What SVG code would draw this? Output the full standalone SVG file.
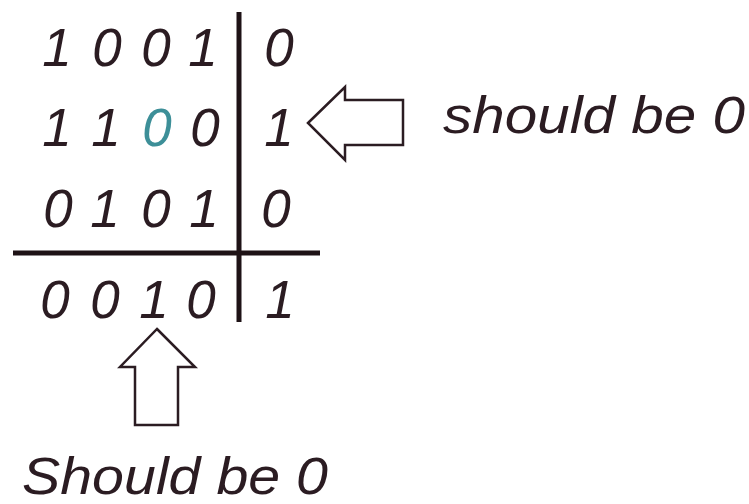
<svg xmlns="http://www.w3.org/2000/svg" width="749" height="504" viewBox="0 0 749 504">
<style>
.d{font-family:"Liberation Sans",Arial,sans-serif;font-style:italic;font-size:53px;fill:#2b1c22;text-anchor:middle}
.t{fill:#3d8f98}
.lbl{font-family:"Liberation Sans",Arial,sans-serif;font-style:italic;font-size:52px;fill:#2b1c22}
.ln{stroke:#1e1216;stroke-width:5;fill:none}
.ar{fill:#fff;stroke:#2b1c22;stroke-width:2.5;stroke-linejoin:miter}
</style>
<rect width="749" height="504" fill="#fff"/>
<g id="grid">
<line class="ln" x1="239" y1="12" x2="239" y2="322"/>
<line class="ln" x1="13" y1="253" x2="320" y2="253"/>
</g>
<g id="row1">
<text class="d" x="57" y="66">1</text><text class="d" x="107" y="66">0</text><text class="d" x="156" y="66">0</text><text class="d" x="203" y="66">1</text><text class="d" x="279" y="66">0</text>
</g>
<g id="row2">
<text class="d" x="57" y="146">1</text><text class="d" x="106" y="146">1</text><text class="d t" x="157" y="146">0</text><text class="d" x="205" y="146">0</text><text class="d" x="279" y="146">1</text>
</g>
<g id="row3">
<text class="d" x="58" y="227">0</text><text class="d" x="105" y="227">1</text><text class="d" x="156" y="227">0</text><text class="d" x="204" y="227">1</text><text class="d" x="276" y="227">0</text>
</g>
<g id="row4">
<text class="d" x="55" y="318">0</text><text class="d" x="105" y="318">0</text><text class="d" x="154" y="318">1</text><text class="d" x="201" y="318">0</text><text class="d" x="280" y="318">1</text>
</g>
<g id="connectors">
<polygon class="ar" points="308,123 345,87 345,100 403,100 403,145 345,145 345,160"/>
<polygon class="ar" points="157,329 195,367 178,367 178,425 135,425 135,367 120,367"/>
</g>
<g id="label-right">
<text class="lbl" x="443" y="133" textLength="302" lengthAdjust="spacingAndGlyphs">should be 0</text>
</g>
<g id="label-bottom">
<text class="lbl" x="22" y="494" textLength="306" lengthAdjust="spacingAndGlyphs" font-size="52">Should be 0</text>
</g>
</svg>
